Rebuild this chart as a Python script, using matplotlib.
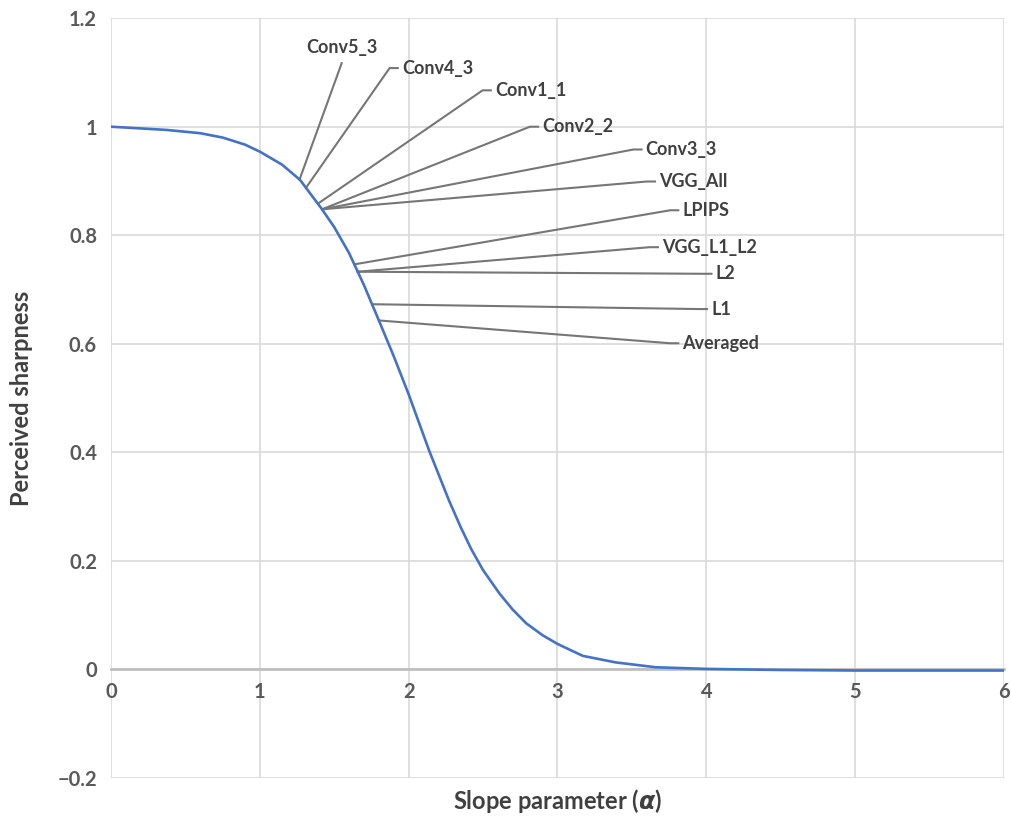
import numpy as np
import matplotlib.pyplot as plt

# curve
alpha = [0.0, 0.375, 0.6, 0.75, 0.9, 1.0, 1.15, 1.27, 1.415, 1.5, 1.6, 1.7, 1.8, 1.9,
         2.0, 2.138, 2.27, 2.35, 2.42, 2.5, 2.61, 2.7, 2.79, 2.9, 3.0, 3.17, 3.39, 3.66,
         4.0, 4.5, 5.0, 5.5, 6.0]
sharpness = [1.0, 0.994, 0.988, 0.980, 0.967, 0.954, 0.93, 0.902, 0.849, 0.815, 0.767, 0.708, 0.643, 0.577,
             0.507, 0.403, 0.312, 0.262, 0.222, 0.183, 0.14, 0.11, 0.085, 0.063, 0.047, 0.025, 0.013, 0.004,
             0.001, -0.001, -0.002, -0.002, -0.002]

# callouts: name, x on the curve, knee of the leader line
labels = ["Conv5_3", "Conv4_3", "Conv1_1", "Conv2_2", "Conv3_3", "VGG_All",
          "LPIPS", "VGG_L1_L2", "L2", "L1", "Averaged"]
point_x = [1.267, 1.31, 1.39, 1.418, 1.418, 1.418, 1.635, 1.658, 1.658, 1.754, 1.80]
knee_x = [1.55, 1.872, 2.497, 2.815, 3.51, 3.60, 3.757, 3.62, 3.98, 3.95, 3.757]
knee_y = [1.117, 1.108, 1.067, 1.0, 0.958, 0.899, 0.846, 0.778, 0.729, 0.664, 0.601]

yticks = [-0.2, 0, 0.2, 0.4, 0.6, 0.8, 1, 1.2]
xticks = [0, 1, 2, 3, 4, 5, 6]

plt.rcParams['font.family'] = ['Lato', 'DejaVu Sans']
plt.rcParams['font.weight'] = 'bold'

fig = plt.figure(figsize=(10.11, 8.25), dpi=100)
ax = fig.add_axes([0.1098, 0.057, 0.8832, 0.921])

ax.plot(alpha, sharpness, color='#4472C4', linewidth=1.9, zorder=3)

lead_col = '#767676'
seg = 0.055
for name, px, kx, ky in zip(labels, point_x, knee_x, knee_y):
    py = np.interp(px, alpha, sharpness)
    if name == "Conv5_3":
        ax.plot([px, kx], [py, ky], color=lead_col, linewidth=1.5, zorder=2)
        ax.annotate(name, xy=(kx, ky), xytext=(0, 5), textcoords='offset points',
                    ha='center', va='bottom', fontsize=13, color='#404040', fontweight='bold')
    else:
        ax.plot([px, kx, kx + seg], [py, ky, ky], color=lead_col, linewidth=1.5, zorder=2)
        ax.annotate(name, xy=(kx + seg, ky), xytext=(3, 0), textcoords='offset points',
                    ha='left', va='center', fontsize=13, color='#404040', fontweight='bold')

ax.set_xlim(0, 6)
ax.set_ylim(-0.2, 1.2)
ax.set_xticks(xticks)
ax.set_xticklabels([str(v) for v in xticks])
ax.set_yticks(yticks)
ax.set_yticklabels([f"{v:g}".replace('-', '\u2212') for v in yticks])
ax.grid(True, color='#d9d9d9', linewidth=1.2)
ax.set_axisbelow(True)

for s in ['top', 'right', 'left']:
    ax.spines[s].set_visible(False)
ax.spines['bottom'].set_position(('data', 0))
ax.spines['bottom'].set_color('#bfbfbf')
ax.spines['bottom'].set_linewidth(2)
ax.tick_params(length=0, labelsize=14.5, labelcolor='#595959', pad=9)
ax.tick_params(axis='y', pad=10)

ax.set_xlabel(r'Slope parameter ($\alpha$)', fontsize=17, color='#404040', fontweight='bold')
ax.xaxis.set_label_coords(0.5, -0.012)
ax.set_ylabel('Perceived sharpness', fontsize=17, color='#404040', fontweight='bold')
ax.yaxis.set_label_coords(-0.087, 0.5)

fig.savefig('out.png', dpi=100)
